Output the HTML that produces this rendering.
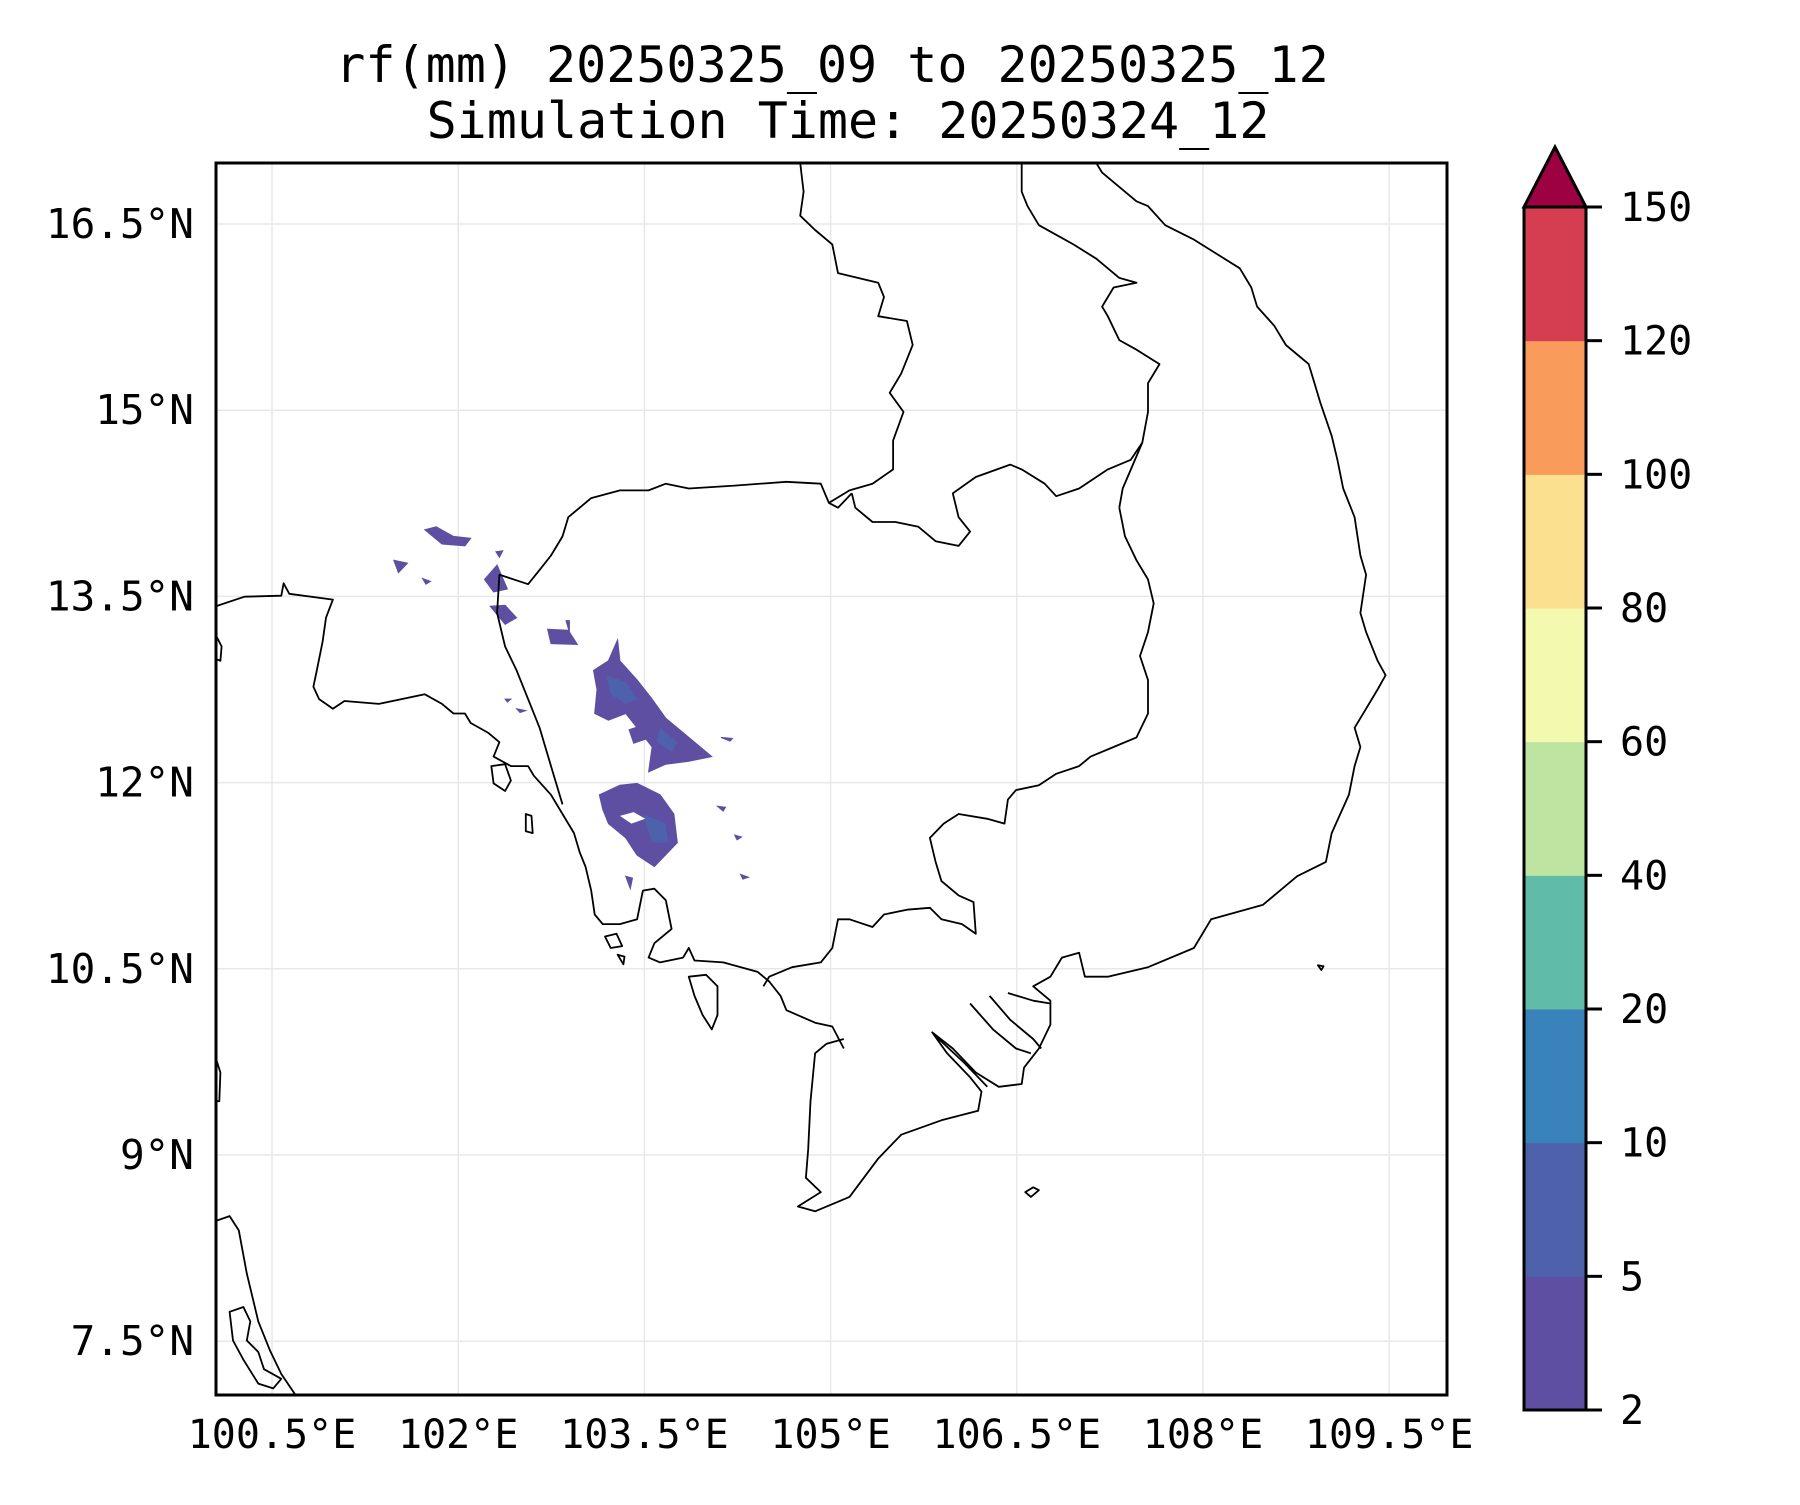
<!DOCTYPE html>
<html><head><meta charset="utf-8">
<style>
html,body{margin:0;padding:0;background:#fff;}
svg text{font-family:"DejaVu Sans Mono","Liberation Mono",monospace;fill:#000;}
</style></head>
<body>
<svg id="chart" width="1800" height="1500" viewBox="0 0 1800 1500" xmlns="http://www.w3.org/2000/svg">
<rect width="1800" height="1500" fill="#fff"/>
<text x="832" y="82" font-size="50" text-anchor="middle">rf(mm) 20250325_09 to 20250325_12</text>
<text x="848" y="138" font-size="50" text-anchor="middle">Simulation Time: 20250324_12</text>
<defs><clipPath id="mapclip"><rect x="216" y="163" width="1231" height="1232"/></clipPath></defs>
<g id="grid"></g>
<g id="rain" clip-path="url(#mapclip)"></g>
<g id="geo" clip-path="url(#mapclip)" fill="none" stroke="#000" stroke-width="1.8" stroke-linejoin="round"></g>
<rect x="216" y="163" width="1231" height="1232" fill="none" stroke="#000" stroke-width="3"/>
<g id="ticks"></g>
<g id="cbar"></g>
</svg>
<script>
// ---- data ----
const lonTicks = [100.5, 102, 103.5, 105, 106.5, 108, 109.5];
const lonLabels = ["100.5°E","102°E","103.5°E","105°E","106.5°E","108°E","109.5°E"];
const latTicks = [16.5, 15, 13.5, 12, 10.5, 9, 7.5];
const latLabels = ["16.5°N","15°N","13.5°N","12°N","10.5°N","9°N","7.5°N"];
const levels = [2, 5, 10, 20, 40, 60, 80, 100, 120, 150];
const levelColors = ["#5e4fa2","#4d62aa","#3a82ba","#60bba8","#bde4a0","#f3f9ae","#fbe08f","#f99b5a","#d53e50"];
const extendColor = "#9e0142";

// traced geography (reference trace units)
const coastWest = [[188,633],[213,623],[245,622],[247,609],[252,620],[290,626],[284,645],[281,670],[276,700],[273,717],[278,730],[290,740],[300,732],[330,735],[370,725],[385,735],[395,745],[405,745],[410,755],[425,765],[435,775],[430,790],[445,800],[460,800],[465,810],[480,830],[490,850],[500,870],[505,890],[510,905],[515,930],[518,955],[525,965],[540,965],[555,960],[560,930],[570,928],[580,940],[585,970],[570,985],[565,1000],[575,1005],[595,1000],[600,990],[605,1003],[630,1005],[660,1015],[670,1025],[680,1040],[685,1055],[710,1068],[725,1072],[735,1095]];
const coastSouth = [[735,1085],[720,1090],[710,1100],[706,1150],[704,1200],[702,1230],[715,1245],[695,1260],[710,1265],[740,1250],[765,1210],[785,1185],[820,1170],[852,1160],[855,1140],[845,1125],[825,1100],[812,1078],[830,1095],[850,1120],[870,1135],[890,1132],[892,1115],[905,1095],[915,1070],[915,1045],[900,1030],[915,1020],[925,1000],[940,995],[945,1020],[965,1020],[1000,1010],[1040,990],[1055,960],[1100,945],[1130,915],[1155,900],[1160,870],[1175,830],[1180,800],[1185,780],[1180,760],[1190,740],[1200,720],[1207,705],[1200,690],[1190,660],[1185,640],[1190,600],[1185,580],[1180,540],[1170,510],[1165,480],[1160,455],[1150,420],[1145,400],[1140,380],[1130,370],[1120,360],[1110,340],[1095,320],[1090,300],[1080,280],[1060,265],[1040,250],[1015,235],[1000,215],[990,210],[975,195],[960,180],[955,170]];
const deltaArms = [[[845,1048],[865,1075],[885,1095],[898,1100]],[[862,1040],[880,1065],[900,1085],[907,1095]],[[878,1037],[900,1045],[915,1048]],[[815,1082],[840,1110],[860,1135]]];
const borderThaiCam = [[490,840],[480,800],[470,760],[460,730],[450,700],[440,675],[433,640],[435,600],[460,610],[470,595],[480,580],[490,560],[495,540],[515,520],[540,512],[565,512],[580,505],[600,510],[640,507],[685,503],[715,505],[722,525],[730,530],[742,515]];
const borderLaosCam = [[742,515],[745,530],[760,545],[780,545],[800,550],[815,565],[835,570],[845,555],[835,540],[830,515],[850,498],[880,485],[890,490],[910,505],[920,518],[940,510],[965,490],[985,480],[995,462],[978,510],[975,530]];
const borderVnCam = [[975,530],[980,560],[990,585],[1000,605],[1005,630],[1000,660],[993,685],[1000,710],[1000,745],[990,770],[970,780],[950,790],[940,800],[920,808],[905,820],[885,825],[878,835],[875,860],[860,855],[835,850],[822,860],[810,875],[815,900],[820,920],[835,935],[848,942],[850,975],[838,965],[820,960],[810,948],[790,950],[770,955],[760,968],[740,960],[730,960],[725,990],[715,1005],[690,1010],[670,1020],[665,1030]];
const borderLaosVn = [[995,462],[1000,430],[1000,400],[1010,380],[990,365],[975,355],[965,330],[960,320],[970,300],[990,295],[975,290],[955,270],[935,255],[920,245],[905,235],[895,215],[890,200],[890,170]];
const borderMekong = [[697,170],[700,200],[697,225],[710,240],[725,255],[730,285],[765,295],[770,310],[765,330],[790,335],[795,360],[785,390],[775,410],[787,430],[778,460],[778,490],[760,505],[740,512],[722,525]];
const malaysia = [[188,1275],[200,1270],[208,1285],[215,1330],[225,1380],[235,1410],[245,1435],[258,1458]];
const islands = [
 [[600,1020],[615,1018],[625,1030],[625,1060],[620,1075],[612,1060],[605,1040]],
 [[200,1370],[212,1365],[218,1380],[215,1400],[225,1412],[230,1430],[245,1440],[238,1450],[225,1445],[212,1420],[203,1400]],
 [[428,800],[440,798],[445,815],[440,826],[430,818]],
 [[458,850],[463,852],[464,870],[458,868]],
 [[893,1245],[900,1240],[905,1243],[898,1250]],
 [[1148,1008],[1153,1009],[1151,1013]],
 [[188,663],[193,675],[192,690],[188,688]],
 [[188,1105],[192,1120],[191,1150],[188,1150]],
 [[527,978],[537,975],[542,988],[532,990]],
 [[538,997],[544,999],[543,1007]]
];
const rainLow = [
 [[517,700],[530,690],[538,668],[540,690],[555,710],[568,730],[580,750],[600,770],[620,790],[600,795],[580,798],[565,806],[568,780],[555,760],[545,745],[530,752],[518,745],[520,720]],
 [[548,762],[558,758],[562,772],[552,776]],
 [[522,830],[540,820],[555,818],[575,830],[587,850],[590,880],[570,905],[555,893],[545,875],[530,860],[525,845]],
 [[370,553],[380,550],[395,560],[410,562],[405,570],[385,568]],
 [[343,585],[355,588],[347,598]],
 [[422,605],[433,590],[442,615],[430,618]],
 [[427,633],[440,632],[450,645],[440,652]],
 [[477,657],[495,658],[503,673],[480,672]],
 [[493,648],[496,648],[496,660]],
 [[628,770],[638,771],[636,774]],
 [[625,842],[632,843],[630,847]],
 [[640,872],[646,874],[642,877]],
 [[545,915],[551,917],[549,928]],
 [[645,913],[652,916],[647,918]],
 [[368,604],[375,607],[371,610]],
 [[440,730],[445,730],[442,733]],
 [[432,576],[438,575],[435,582]],
 [[450,740],[458,742],[453,744]]
];
const rainHigh = [
 [[528,705],[545,712],[555,730],[545,735],[532,725]],
 [[575,760],[590,775],[585,785],[572,775]],
 [[560,850],[580,860],[582,880],[568,880]]
];
const rainHoles = [[[540,852],[552,848],[562,855],[550,860]],[[522,874],[530,873],[528,877]]];

// ---- projection (trace units -> pixels) ----
function toX(u){ return u*1.148; }
function toY(v){ return (142 + (v-170)*0.8339)*1.148; }
const lonX = lon => 272 + (lon-100.5)/1.5*186.2;
const latY = lat => 224 + (16.5-lat)/1.5*186.2;
const NS = "http://www.w3.org/2000/svg";
function mk(tag, attrs, parent){ const e=document.createElementNS(NS,tag); for(const k in attrs) e.setAttribute(k,attrs[k]); parent.appendChild(e); return e; }
function pts(arr){ return arr.map(p=>toX(p[0]).toFixed(1)+","+toY(p[1]).toFixed(1)).join(" "); }

// grid
const grid=document.getElementById('grid');
lonTicks.forEach(lon=>{
  const l=mk('line',{x1:lonX(lon),x2:lonX(lon),y1:163,y2:1395,stroke:"#e8e8e8","stroke-width":1.5},grid);
  
  
});
latTicks.forEach(lat=>{
  const l=mk('line',{x1:216,x2:1447,y1:latY(lat),y2:latY(lat),stroke:"#e8e8e8","stroke-width":1.5},grid);
  
  
});

// rain
const rain=document.getElementById('rain');
rainLow.forEach(r=>{
  const p=mk('polygon',{points:pts(r),fill:levelColors[0],stroke:levelColors[0],"stroke-width":1},rain);
  
  
});
rainHigh.forEach(r=>{
  const p=mk('polygon',{points:pts(r),fill:levelColors[1],stroke:"none"},rain);
  
  
});
rainHoles.forEach(r=>{
  const p=mk('polygon',{points:pts(r),fill:"#fff"},rain);
  
  
});

// geography
const geo=document.getElementById('geo');
[[coastWest,'coastline-gulf'],[coastSouth,'coastline-vietnam'],[malaysia,'coastline-malaysia'],
 [borderThaiCam,'border-thailand-cambodia'],[borderLaosCam,'border-laos-cambodia'],[borderVnCam,'border-vietnam-cambodia'],
 [borderLaosVn,'border-laos-vietnam'],[borderMekong,'border-thailand-laos']].forEach(([a,n])=>{
  const p=mk('polyline',{points:pts(a)},geo);
  
  
});
deltaArms.forEach(a=>{
  const p=mk('polyline',{points:pts(a)},geo);
  
  
});
islands.forEach(a=>{
  const p=mk('polygon',{points:pts(a)},geo);
  
  
});

// tick labels
const ticks=document.getElementById('ticks');
lonTicks.forEach((lon,i)=>{
  const t=mk('text',{x:lonX(lon),y:1448,"font-size":40,"text-anchor":"middle"},ticks);
  t.textContent=lonLabels[i];
  
  
});
latTicks.forEach((lat,i)=>{
  const t=mk('text',{x:194,y:latY(lat)+14,"font-size":41,"text-anchor":"end"},ticks);
  t.textContent=latLabels[i];
  
  
});

// colorbar
const cbar=document.getElementById('cbar');
const cbL=1524, cbR=1586, cbTop=207, cbBot=1410;
const seg=(cbBot-cbTop)/(levels.length-1);
levelColors.forEach((c,i)=>{
  const r=mk('rect',{x:cbL,y:cbBot-(i+1)*seg,width:cbR-cbL,height:seg+0.5,fill:c},cbar);
  
  
});
const tri=mk('polygon',{points:`${cbL},${cbTop} ${(cbL+cbR)/2},147 ${cbR},${cbTop}`,fill:extendColor,stroke:"#000","stroke-width":3,"stroke-linejoin":"miter"},cbar);


const outline=mk('polyline',{points:`${cbL},${cbTop} ${cbL},${cbBot} ${cbR},${cbBot} ${cbR},${cbTop}`,fill:"none",stroke:"#000","stroke-width":3},cbar);


levels.forEach((v,i)=>{
  const y=cbBot-i*seg;
  const tk=mk('line',{x1:cbR,x2:cbR+16,y1:y,y2:y,stroke:"#000","stroke-width":3},cbar);
  
  
  const t=mk('text',{x:1620,y:y+14,"font-size":40},cbar);
  t.textContent=String(v);
  
  
});
</script>
</body></html>
